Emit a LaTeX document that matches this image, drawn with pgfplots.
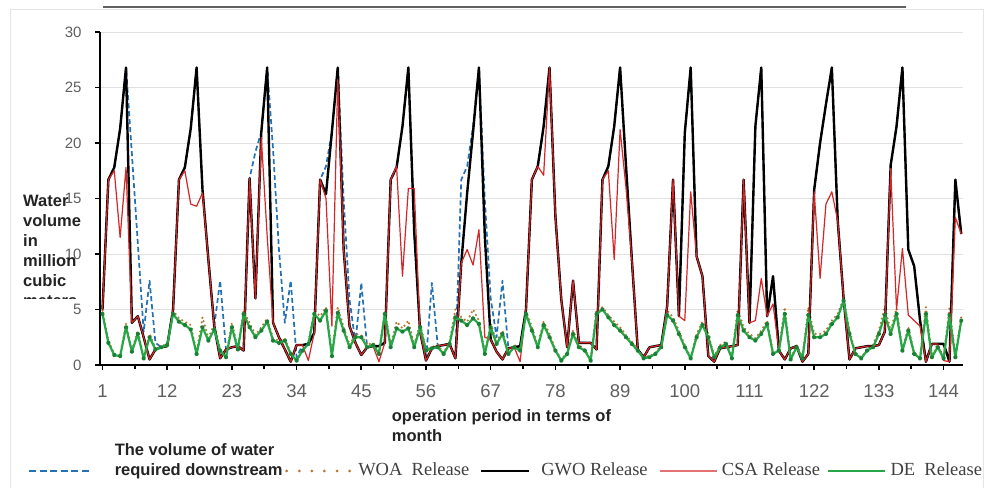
\documentclass[border=0pt]{standalone}
\usepackage{fontspec}
\setmainfont{Liberation Serif}
\setsansfont{Liberation Sans}
\usepackage{pgfplots}
\usepackage{pgfplotstable}
\pgfplotsset{compat=1.18}
\definecolor{reqblue}{RGB}{36,113,179}
\definecolor{woabrown}{RGB}{185,115,45}
\definecolor{csared}{RGB}{212,38,38}
\definecolor{degreen}{RGB}{38,168,72}
\definecolor{demark}{RGB}{25,130,55}
\definecolor{tickgray}{RGB}{95,95,95}
\definecolor{labgray}{RGB}{35,35,35}
\pgfplotstableread{
m req woa gwo csa de
1 5.0 4.9 5.0 5.0 4.6
2 16.7 2.2 16.7 16.7 2.0
3 17.8 1.0 17.8 17.5 0.9
4 21.3 0.9 21.3 11.5 0.8
5 26.8 3.7 26.8 17.8 3.4
6 19.0 1.3 3.8 3.8 1.2
7 11.0 3.1 4.4 4.4 2.8
8 3.0 0.7 2.5 2.5 0.6
9 7.6 2.8 0.5 0.5 2.5
10 2.0 1.5 1.4 1.4 1.4
11 1.6 1.7 1.6 1.6 1.6
12 1.7 1.9 1.7 1.7 1.8
13 5.0 4.9 5.0 5.0 4.6
14 16.7 4.2 16.7 16.7 3.9
15 17.8 3.9 17.8 17.5 3.6
16 21.3 3.6 21.3 14.5 3.2
17 26.8 1.1 26.8 14.3 1.0
18 15.8 4.3 15.8 15.5 3.4
19 9.5 2.4 9.5 9.5 2.2
20 3.5 3.7 3.5 3.5 3.2
21 7.6 1.4 0.6 0.6 1.3
22 1.4 0.8 1.4 1.4 0.7
23 1.6 3.8 1.6 1.6 3.4
24 1.7 1.5 1.7 1.7 1.4
25 1.3 4.9 1.3 1.3 4.6
26 16.8 3.8 16.8 16.8 3.4
27 19.2 2.7 6.0 6.0 2.5
28 21.0 3.4 21.0 20.5 3.1
29 26.8 4.2 26.8 11.6 3.9
30 19.4 2.4 3.8 3.8 2.2
31 10.4 2.2 2.5 2.5 2.0
32 3.8 2.4 1.4 1.4 2.2
33 7.6 1.1 0.3 0.3 1.0
34 0.7 0.5 1.8 1.8 0.4
35 1.8 1.4 1.8 1.8 1.3
36 1.9 2.0 1.9 0.4 1.9
37 2.9 4.9 2.9 2.9 4.6
38 16.7 4.4 16.7 16.7 4.0
39 17.9 5.2 15.4 15.0 4.9
40 21.0 1.0 21.0 3.5 0.8
41 26.8 5.2 26.8 25.7 4.7
42 14.9 3.4 10.4 10.4 3.1
43 5.9 1.8 3.5 3.5 1.6
44 2.0 2.8 2.0 2.0 2.5
45 7.4 2.7 0.9 0.9 2.5
46 1.6 1.8 1.6 1.6 1.6
47 1.7 2.0 1.7 1.7 1.8
48 1.7 1.1 1.7 0.3 1.0
49 2.0 4.9 2.0 2.0 4.6
50 16.7 1.8 16.7 16.7 1.6
51 17.8 3.9 17.8 17.9 3.3
52 21.5 3.3 21.5 8.0 3.0
53 26.8 4.0 26.8 15.9 3.3
54 12.0 1.8 12.0 15.9 1.6
55 3.0 3.7 3.0 3.0 3.4
56 0.4 1.4 0.4 0.4 1.3
57 7.4 1.6 1.5 1.5 1.5
58 1.7 1.8 1.7 1.7 1.6
59 1.8 1.1 1.8 1.8 1.0
60 1.9 2.1 1.9 1.9 1.9
61 0.6 5.0 0.6 0.6 4.3
62 16.7 4.3 9.2 9.2 4.0
63 17.9 3.9 15.5 10.4 3.6
64 21.5 5.0 21.0 9.0 4.2
65 26.8 4.0 26.8 12.2 3.7
66 14.9 1.1 11.6 2.5 1.0
67 6.0 3.7 2.3 2.3 3.4
68 2.5 2.1 1.2 1.2 1.9
69 7.6 3.1 0.5 0.5 2.8
70 1.5 1.1 1.5 1.5 1.0
71 1.6 1.8 1.6 1.6 1.6
72 1.7 1.4 1.7 0.3 1.3
73 5.0 4.9 5.0 5.0 4.6
74 16.7 3.4 16.7 16.7 3.1
75 17.9 1.8 17.9 17.9 1.6
76 21.5 3.9 21.5 17.1 3.6
77 26.8 2.8 26.8 26.8 2.5
78 13.4 1.4 13.4 13.4 1.3
79 5.9 0.5 5.9 5.9 0.4
80 1.6 1.1 1.6 1.6 1.0
81 7.6 3.1 7.6 7.6 2.8
82 2.0 1.8 2.0 2.0 1.6
83 2.0 1.4 2.0 2.0 1.3
84 2.0 0.5 2.0 2.0 0.4
85 1.4 5.1 1.4 1.4 4.6
86 16.7 5.2 16.7 16.7 5.0
87 17.9 4.5 17.9 17.5 4.3
88 21.5 3.9 21.5 9.5 3.6
89 26.8 3.4 26.8 21.2 3.1
90 18.0 2.7 18.0 16.0 2.5
91 9.5 2.1 9.5 9.5 1.9
92 1.4 1.4 1.4 1.4 1.3
93 0.7 0.7 0.7 0.7 0.6
94 1.6 0.8 1.6 1.6 0.7
95 1.7 1.1 1.7 1.7 1.0
96 1.8 1.8 1.8 1.8 1.6
97 5.3 4.9 5.3 5.3 4.5
98 16.7 4.3 16.7 16.7 4.0
99 4.4 3.1 4.4 4.4 2.8
100 20.9 1.8 20.9 4.0 1.6
101 26.8 0.7 26.8 15.6 0.6
102 9.8 2.8 9.8 9.8 2.5
103 8.0 3.9 8.0 8.0 3.6
104 0.8 2.8 0.8 0.8 2.5
105 0.3 0.8 0.3 0.3 0.7
106 1.5 1.8 1.5 1.5 1.6
107 1.6 2.1 1.6 1.6 1.9
108 1.7 0.7 1.7 1.7 0.6
109 1.8 5.0 1.8 1.8 4.5
110 16.7 3.4 16.7 16.7 3.1
111 3.8 2.8 3.8 3.8 2.5
112 21.5 2.4 21.5 4.0 2.2
113 26.8 3.1 26.8 7.8 2.8
114 4.4 4.0 4.4 4.4 3.7
115 8.0 1.1 8.0 5.5 1.0
116 1.3 1.4 1.3 1.3 1.3
117 0.5 5.2 0.5 0.5 4.6
118 1.5 0.6 1.5 1.5 0.5
119 1.7 1.8 1.7 1.7 1.6
120 0.3 0.7 0.3 0.3 0.6
121 1.0 5.2 1.0 1.0 4.5
122 15.8 2.8 15.8 15.6 2.5
123 20.0 2.8 20.0 7.8 2.5
124 23.5 3.1 23.5 14.5 2.8
125 26.8 4.0 26.8 15.6 3.7
126 13.0 4.6 13.0 13.0 4.3
127 6.0 6.0 6.0 6.0 5.8
128 0.5 3.1 0.5 0.5 2.8
129 1.5 1.1 1.5 1.5 1.0
130 1.6 0.7 1.6 1.6 0.6
131 1.7 1.4 1.7 1.7 1.3
132 1.7 1.8 1.7 1.7 1.6
133 1.8 3.1 1.8 1.8 2.8
134 3.0 5.2 3.0 3.0 4.5
135 18.0 3.1 18.0 17.7 2.8
136 21.5 5.1 21.5 5.0 4.6
137 26.8 1.4 26.8 10.5 1.3
138 10.4 3.4 10.4 4.5 3.1
139 8.9 1.1 8.9 4.0 1.0
140 4.0 0.7 4.0 3.5 0.6
141 0.3 5.2 0.3 0.3 4.6
142 1.9 0.8 1.9 1.9 0.7
143 1.9 1.8 1.9 1.9 1.6
144 1.9 0.7 1.9 0.4 0.6
145 0.3 5.1 0.3 0.3 4.5
146 16.7 0.8 16.7 13.3 0.7
147 11.8 4.3 11.8 11.8 4.0
}\data
\begin{document}
\begin{tikzpicture}[x=1pt,y=1pt]
\useasboundingbox (0,0) rectangle (991,488);
\fill[white] (0,0) rectangle (991,488);
\draw[black!10, line width=1pt] (10,0) -- (10,478) -- (983,478) -- (983,0);
\draw[black!62, line width=2.5pt] (103,481) -- (906,481);
\begin{axis}[
  at={(100pt,123pt)}, anchor=south west,
  width=863pt, height=333pt, scale only axis,
  xmin=0.575, xmax=147.3, ymin=0, ymax=30,
  axis x line*=bottom, axis y line*=left,
  axis line style={line width=2.2pt, black},
  xtick={1,12,23,34,45,56,67,78,89,100,111,122,133,144},
  minor xtick={6.5,17.5,28.5,39.5,50.5,61.5,72.5,83.5,94.5,105.5,116.5,127.5,138.5},
  ytick={0,5,10,15,20,25,30},
  ymajorgrids, grid style={line width=0.9pt, black!12},
  major tick length=5pt, minor tick length=4pt,
  tick align=outside,
  tick style={black, line width=1.6pt},
  /pgf/number format/assume math mode=true,
  xticklabel style={font=\sffamily\fontsize{18.5}{18.5}\selectfont, text=tickgray, yshift=-11pt},
  yticklabel style={font=\sffamily\fontsize{15}{15}\selectfont, text=tickgray, xshift=-10pt},
  legend columns=5,
  legend style={at={(-0.0834,-0.3363)}, anchor=south west, draw=none, fill=none,
    inner sep=0pt, outer sep=0pt, column sep=0pt, row sep=0pt,
    nodes={inner sep=0pt, outer sep=0pt, text=black!75},
    cells={inner sep=0pt, outer sep=0pt, anchor=base west},
    font=\fontsize{18.5}{20}\selectfont},
]
\addplot[reqblue, line width=1.7pt, dash pattern=on 5pt off 3pt, line join=round,
  legend image code/.code={\draw[reqblue, line width=1.8pt, dash pattern=on 7pt off 3.6pt] (0pt,4.5pt) -- (60pt,4.5pt); \path (0pt,0pt) (85pt,0pt);}]
  table[x=m,y=req]{\data};
\addlegendentry{\makebox[168.7pt][l]{\sffamily\bfseries\fontsize{16.5}{20}\selectfont\color{labgray}\begin{tabular}[b]{@{}l@{}}The volume of water\\required downstream\end{tabular}}}
\addplot[woabrown, line width=2.4pt, line cap=round, dash pattern=on 0pt off 4.6pt,
  legend image code/.code={\draw[woabrown, line width=3pt, line cap=round, dash pattern=on 0pt off 12.6pt] (2pt,4.5pt) -- (66pt,4.5pt); \path (0pt,0pt) (72.4pt,0pt);}]
  table[x=m,y=woa]{\data};
\addlegendentry{\makebox[110.3pt][l]{WOA~~Release}}
\addplot[black, line width=2.4pt, line join=round,
  legend image code/.code={\draw[black, line width=2.6pt] (11.7pt,4.5pt) -- (59.7pt,4.5pt); \path (0pt,0pt) (70.4pt,0pt);}]
  table[x=m,y=gwo]{\data};
\addlegendentry{\makebox[106.7pt][l]{GWO Release}}
\addplot[csared, line width=1.2pt, line join=round,
  legend image code/.code={\draw[csared!65!white, line width=2pt] (11pt,4.5pt) -- (68pt,4.5pt); \path (0pt,0pt) (72.7pt,0pt);}]
  table[x=m,y=csa]{\data};
\addlegendentry{\makebox[98.7pt][l]{CSA Release}}
\addplot[degreen, line width=2.2pt, line join=round, mark=*, mark size=1.2pt, mark options={fill=demark, draw=demark},
  legend image code/.code={\draw[degreen, line width=2.4pt] (6pt,4.5pt) -- (63pt,4.5pt); \path (0pt,0pt) (67.7pt,0pt);}]
  table[x=m,y=de]{\data};
\addlegendentry{\makebox[95.7pt][l]{DE~~Release}}
\end{axis}
\begin{scope}[every node/.style={anchor=base west, inner sep=0pt, text=labgray, font=\sffamily\bfseries\fontsize{16.5}{20}\selectfont}]
\node at (23,281) {Water};
\node at (23,261.2) {volume};
\node at (23,241.4) {in};
\node at (23,221.6) {million};
\node at (23,201.8) {cubic};
\begin{scope}
\clip (0,190) rectangle (100,200);
\node at (23,182) {meters};
\end{scope}
\node at (391.7,66.3) {operation period in terms of};
\node at (391.7,47) {month};
\end{scope}
\end{tikzpicture}
\end{document}
